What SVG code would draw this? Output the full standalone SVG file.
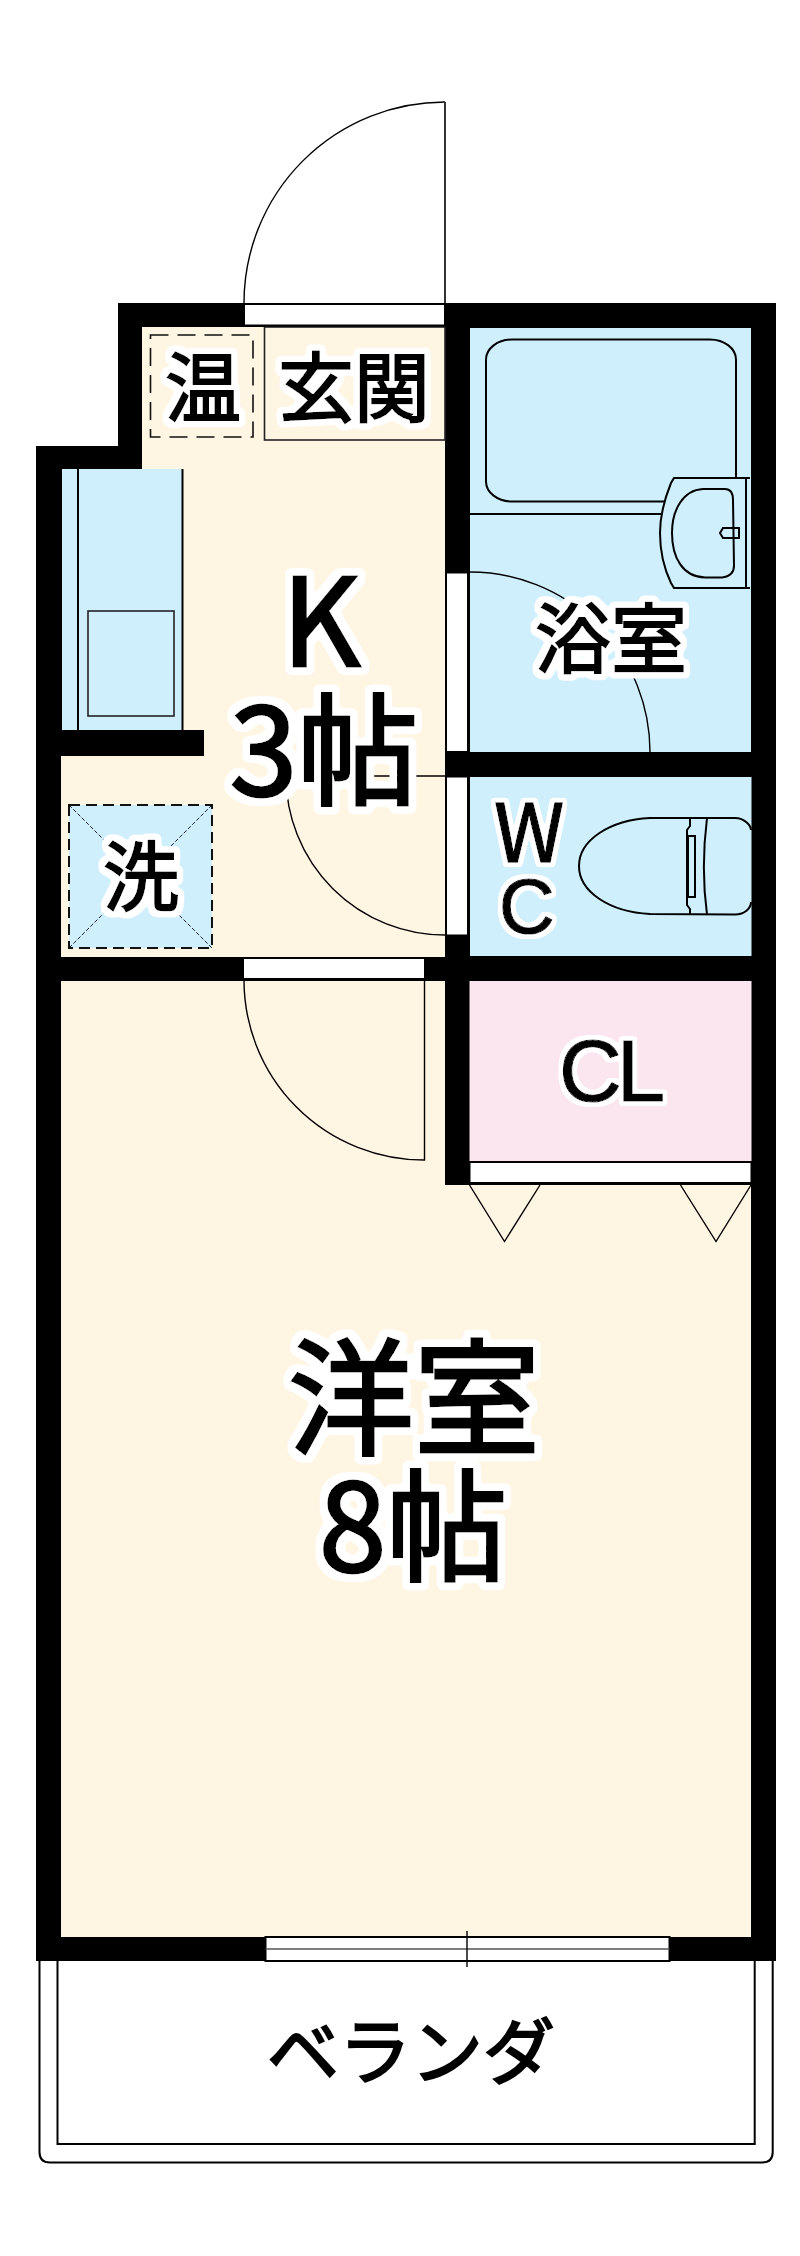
<svg xmlns="http://www.w3.org/2000/svg" width="800" height="2256" viewBox="0 0 800 2256">
<style>
.cream{fill:#fef5e3}.blue{fill:#d0effd}.pink{fill:#fbe6f0}
.ln{fill:none;stroke:#000;stroke-width:2}
.thin{fill:none;stroke:#000;stroke-width:1.4}
.door{fill:#fff;stroke:#000;stroke-width:2}
.t{font-family:"Noto Sans CJK JP","Noto Sans",sans-serif;fill:#000;stroke:#000;stroke-linejoin:miter;font-weight:400}
.big{font-size:121px;stroke-width:3px;filter:url(#haloL)}
.room{font-size:126px;stroke-width:3px;filter:url(#haloL)}
.mid{font-size:76px;stroke-width:2px;filter:url(#haloM)}
.sm{font-size:80px;stroke-width:1.5px;filter:url(#haloS)}
.lat{font-family:"Liberation Sans",Arial,sans-serif;stroke-width:1.2px;filter:url(#haloS)}
.ver{font-size:72px;stroke-width:2px}
</style>
<defs>
<filter id="haloL" x="-30%" y="-30%" width="160%" height="160%"><feMorphology in="SourceAlpha" operator="dilate" radius="5"/><feGaussianBlur stdDeviation="2.5"/><feComponentTransfer result="h"><feFuncA type="linear" slope="8" intercept="-0.8"/></feComponentTransfer><feFlood flood-color="#fff"/><feComposite in2="h" operator="in"/><feMerge><feMergeNode/><feMergeNode in="SourceGraphic"/></feMerge></filter>
<filter id="haloM" x="-30%" y="-30%" width="160%" height="160%"><feMorphology in="SourceAlpha" operator="dilate" radius="4"/><feGaussianBlur stdDeviation="2"/><feComponentTransfer result="h"><feFuncA type="linear" slope="8" intercept="-0.8"/></feComponentTransfer><feFlood flood-color="#fff"/><feComposite in2="h" operator="in"/><feMerge><feMergeNode/><feMergeNode in="SourceGraphic"/></feMerge></filter>
<filter id="haloS" x="-30%" y="-30%" width="160%" height="160%"><feMorphology in="SourceAlpha" operator="dilate" radius="3"/><feGaussianBlur stdDeviation="1.5"/><feComponentTransfer result="h"><feFuncA type="linear" slope="8" intercept="-0.8"/></feComponentTransfer><feFlood flood-color="#fff"/><feComposite in2="h" operator="in"/><feMerge><feMergeNode/><feMergeNode in="SourceGraphic"/></feMerge></filter>
</defs>
<rect width="800" height="2256" fill="#fff"/>
<g id="balcony">
<path d="M39.5,1961V2152Q39.5,2162.5 50,2162.5H762Q772.7,2162.5 772.7,2152V1961" class="ln"/>
<path d="M57.5,1961V2144H754.7V1961" class="ln"/>
</g>
<g id="walls"><path d="M118,303H776V1961H36V446H118Z" fill="#000"/></g>
<g id="kitchen">
<path class="cream" d="M142,327H445V957H61V756H204V730H62V469H142Z"/>
<rect x="264.5" y="327" width="180.5" height="113" class="cream" stroke="#222" stroke-width="1.6"/>
<rect x="150.5" y="335" width="102.5" height="102" fill="none" stroke="#111" stroke-width="1.6" stroke-dasharray="18 9"/>
</g>
<g id="counter">
<rect x="62" y="469" width="120.5" height="261" class="blue"/>
<path d="M78,469V730M182.5,469V730" class="ln"/>
<rect x="88" y="611" width="86" height="105" fill="none" stroke="#222" stroke-width="1.6"/>
</g>
<g id="washer">
<rect x="69" y="805" width="143" height="143" class="blue"/>
<path d="M69,805L212,948M212,805L69,948" fill="none" stroke="#223" stroke-width="1" stroke-dasharray="4 2"/>
<rect x="69" y="805" width="143" height="143" fill="none" stroke="#111" stroke-width="2" stroke-dasharray="11 6"/>
</g>
<g id="bath">
<rect x="470" y="328" width="281" height="424" class="blue"/>
<rect x="486" y="339.5" width="250" height="162" rx="26" ry="20" class="ln"/>
<path d="M470,514H664" class="ln"/>
<path d="M750,478H674L671,483Q660,510 660,533Q660,560 671,583L674,588H750" class="blue" stroke="#000" stroke-width="2"/>
<path d="M725,489H703C683,490 672,510 672,533C672,558 683,577 705,577.5H722C730,577 734,572 734,566L733,500C733,493 730,489 725,489Z" class="ln"/>
<path d="M739,528H723L720,533L723,538H739Z" class="ln"/>
<path d="M746,478V588" class="ln"/>
</g>
<g id="wc">
<rect x="470" y="777" width="281.5" height="179" class="blue"/>
<path d="M751,830C751,826 745,818 735,818H650C610,820 579,840 579,866C579,892 610,912 650,914L735,914.5C745,914.5 751,908 751,902" class="ln"/>
<path d="M707,818C703,850 703,885 707,914.5" class="ln"/>
<path d="M690,818V826L687,830V905L690,909V914.5" class="ln"/>
<rect x="688" y="836" width="7" height="61" class="ln"/>
</g>
<g id="closet">
<rect x="469.5" y="981" width="282" height="180" class="pink"/>
<rect x="469.5" y="1162" width="282" height="21" class="door"/>
</g>
<g id="western-room">
<path class="cream" d="M61,981H445V1185H751V1937H61Z"/>
<path d="M469.5,1185L504.5,1241.5L540,1185M680.5,1185L716,1241.5L751,1185" class="thin"/>
</g>
<g id="doors">
<rect x="244" y="304" width="201" height="21.5" class="door"/>
<path d="M244,303A201,201 0 0 1 445,102" class="thin"/>
<path d="M445,102V303" fill="none" stroke="#333" stroke-width="2"/>
<rect x="446" y="572.5" width="22" height="179.5" class="door"/>
<rect x="446" y="776.5" width="22" height="159" class="door"/>
<path d="M470,572A180,180 0 0 1 650,752" class="thin"/>
<path d="M286,776A159,159 0 0 0 445,935M286,776H446" class="thin"/>
<rect x="244" y="959" width="180" height="19" fill="#fff"/>
<path d="M244,978A180,180 0 0 0 424.5,1160V978" class="thin"/>
</g>
<g id="window">
<rect x="265.5" y="1937" width="404" height="24" class="door"/>
<path d="M265.5,1949H669.5" fill="none" stroke="#555" stroke-width="1.5"/>
<path d="M467,1931V1967" class="thin"/>
</g>
<g id="labels">
<text class="t mid" x="165" y="416">温</text>
<text class="t mid" x="278" y="416">玄関</text>
<text class="t big" x="282" y="666">K</text>
<text class="t big" x="230" y="795">3帖</text>
<text class="t mid" x="103" y="905">洗</text>
<text class="t mid" x="535" y="667">浴室</text>
<text class="t sm" x="494" y="862">W</text>
<text class="t lat" x="499" y="933" font-size="77">C</text>
<text class="t lat" x="559" y="1101" font-size="87" letter-spacing="-5">CL</text>
<text class="t room" x="288" y="1445">洋室</text>
<text class="t big" x="319" y="1571">8帖</text>
<text class="t ver" x="267" y="2078">ベランダ</text>
</g>
</svg>
